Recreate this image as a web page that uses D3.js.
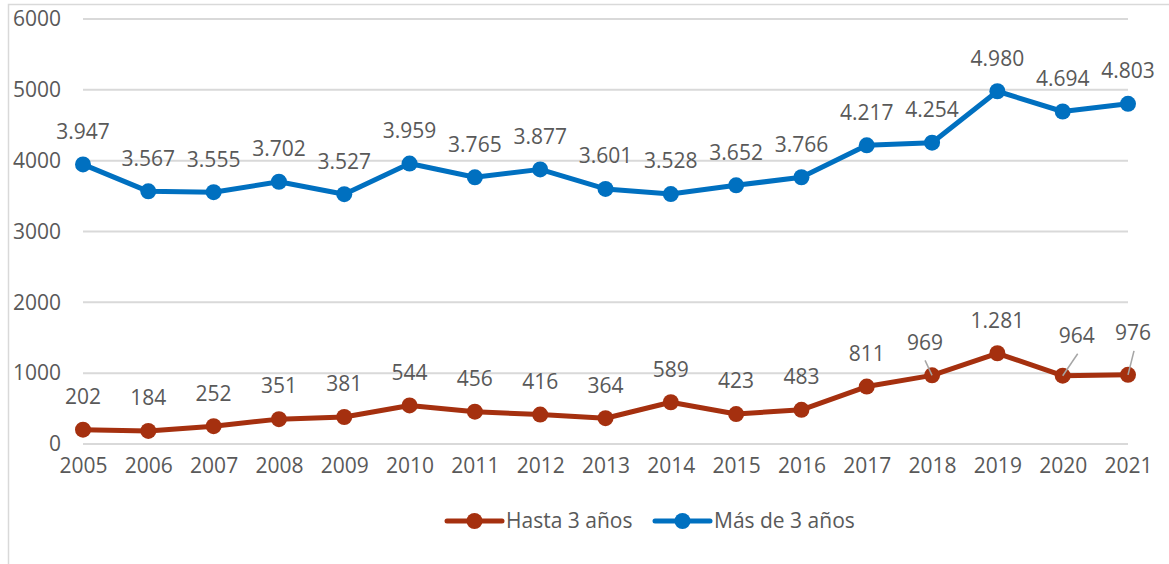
<!DOCTYPE html>
<html>
<head>
<meta charset="utf-8">
<script src="https://cdn.jsdelivr.net/npm/d3@7"></script>
<style>
  body { margin: 0; background: #fff; }
  text { font-family: "Open Sans", sans-serif; fill: #595959; }
</style>
</head>
<body>
<div id="chart"></div>
<script>
var years = ["2005","2006","2007","2008","2009","2010","2011","2012","2013","2014","2015","2016","2017","2018","2019","2020","2021"];
var hasta3 = [202, 184, 252, 351, 381, 544, 456, 416, 364, 589, 423, 483, 811, 969, 1281, 964, 976];
var mas3 = [3947, 3567, 3555, 3702, 3527, 3959, 3765, 3877, 3601, 3528, 3652, 3766, 4217, 4254, 4980, 4694, 4803];
var yTicks = [0, 1000, 2000, 3000, 4000, 5000, 6000];

function init() {
    var w = 1169;
    var h = 564;
    var fs = "21px";
    var fmt = d3.formatLocale({decimal: ",", thousands: ".", grouping: [3], currency: ["", ""]}).format(",d");

    var series = [
        {name: "Hasta 3 años", values: hasta3, color: "#A5300F"},
        {name: "Más de 3 años", values: mas3, color: "#0070C0"}
    ];

    // labels moved by hand in the original (index -> [dx, dy] from default spot)
    var moved = {13: [-7, 0], 15: [14, -7], 16: [5, -9]};

    var xScale = d3.scalePoint()
            .domain(years)
            .range([83, 1128]);

    var yScale = d3.scaleLinear()
            .domain([0, 6000])
            .range([444, 19]);

    var svg = d3.select("#chart")
                .append("svg")
                .attr("width", w)
                .attr("height", h);

    //frame
    svg.append("path")
        .attr("d", "M8.5," + h + "V4.5H" + w)
        .attr("fill", "none")
        .attr("stroke", "#d9d9d9")
        .attr("stroke-width", 1.5);

    //grid
    svg.selectAll(".grid")
        .data(yTicks)
        .enter().append("line")
        .attr("x1", 83).attr("x2", 1128)
        .attr("y1", function(d) { return yScale(d); })
        .attr("y2", function(d) { return yScale(d); })
        .attr("stroke", "#d9d9d9")
        .attr("stroke-width", 2);

    var yAxis = d3.axisLeft(yScale).tickValues(yTicks).tickFormat(d3.format("d")).tickSize(0).tickPadding(0);
    var gy = svg.append("g")
        .attr("transform", "translate(61,0)")
        .call(yAxis);
    gy.select(".domain").remove();
    gy.selectAll("text").style("font-size", fs).attr("font-family", null).attr("fill", "#595959");

    var xAxis = d3.axisBottom(xScale).tickSize(0).tickPadding(0);
    var gx = svg.append("g")
        .attr("transform", "translate(0,458)")
        .call(xAxis);
    gx.select(".domain").remove();
    gx.selectAll("text").style("font-size", fs).attr("font-family", null).attr("fill", "#595959");

    var line = d3.line()
            .x(function(d, i) { return xScale(years[i]); })
            .y(function(d) { return yScale(d); });

    series.forEach(function(s) {
        svg.append("path")
            .datum(s.values)
            .attr("d", line)
            .attr("fill", "none")
            .attr("stroke", s.color)
            .attr("stroke-width", 5)
            .attr("stroke-linejoin", "round");

        svg.selectAll(null)
            .data(s.values)
            .enter().append("circle")
            .attr("cx", function(d, i) { return xScale(years[i]); })
            .attr("cy", function(d) { return yScale(d); })
            .attr("r", 8)
            .attr("fill", s.color);
    });

    //data labels
    series.forEach(function(s, k) {
        s.values.forEach(function(d, i) {
            var px = xScale(years[i]);
            var py = yScale(d);
            var off = k == 0 ? moved[i] : null;
            var lx = px + (off ? off[0] : 0);
            var ly = py - 33 + (off ? off[1] : 0);
            if (off) {
                svg.append("line")
                    .attr("x1", lx + (off[0] > 0 ? 1 : 0)).attr("y1", ly + 18)
                    .attr("x2", px).attr("y2", py)
                    .attr("stroke", "#a6a6a6")
                    .attr("stroke-width", 1.5);
            }
            svg.append("text")
                .attr("x", lx)
                .attr("y", ly)
                .attr("dy", "0.35em")
                .attr("text-anchor", "middle")
                .style("font-size", fs)
                .text(fmt(d));
        });
    });

    //legend
    var legend = [{x: 447, s: series[0]}, {x: 655, s: series[1]}];
    legend.forEach(function(l) {
        var g = svg.append("g").attr("transform", "translate(" + l.x + ",521)");
        g.append("line")
            .attr("x1", 0).attr("x2", 55)
            .attr("stroke", l.s.color)
            .attr("stroke-width", 5)
            .attr("stroke-linecap", "round");
        g.append("circle").attr("cx", 27.5).attr("r", 8).attr("fill", l.s.color);
        g.append("text")
            .attr("x", 59)
            .attr("dy", "0.35em")
            .style("font-size", fs)
            .text(l.s.name);
    });
}
window.onload = init;
</script>
</body>
</html>
